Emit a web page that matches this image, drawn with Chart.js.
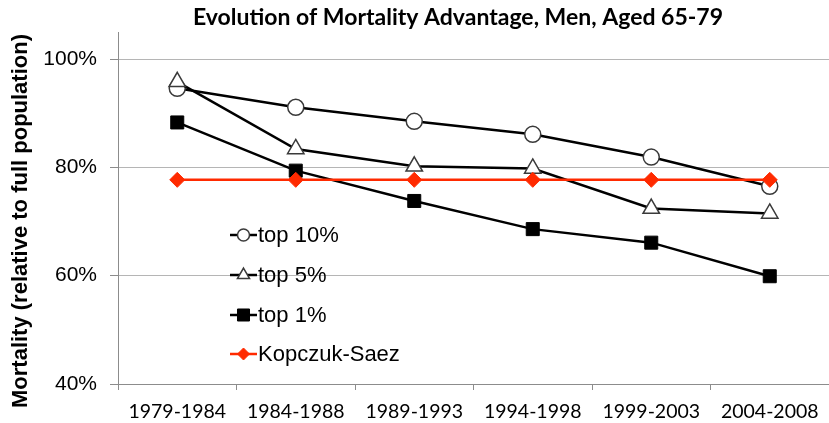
<!DOCTYPE html>
<html>
<head>
<meta charset="utf-8">
<script src="https://cdn.jsdelivr.net/npm/chart.js@4/dist/chart.umd.min.js"></script>
<style>
  html, body { margin: 0; padding: 0; background: #fff; overflow: hidden; }
  #wrap { width: 829px; height: 423px; position: relative; }
</style>
</head>
<body>
<div id="wrap"><canvas id="c" width="829" height="423"></canvas></div>
<script>
const chartTitle = "Evolution of Mortality Advantage, Men, Aged 65-79";
const yAxisTitle = "Mortality (relative to full population)";
const categories = ["1979-1984", "1984-1988", "1989-1993", "1994-1998", "1999-2003", "2004-2008"];
const yTickValues = [40, 60, 80, 100];
const seriesNames = ["top 10%", "top 5%", "top 1%", "Kopczuk-Saez"];
const top10 = [94.6, 91.1, 88.5, 86.1, 81.9, 76.5];
const top5 = [95.8, 83.4, 80.2, 79.8, 72.4, 71.5];
const top1 = [88.3, 79.4, 73.8, 68.6, 66.1, 59.9];
const kopczukSaez = [77.7, 77.7, 77.7, 77.7, 77.7, 77.7];

const RED = '#ff2a00';
const AXIS = '#8c8c8c';
const GRID = '#b5b5b5';

const datasets = [
  { label: seriesNames[0], data: top10, borderColor: '#000', borderWidth: 2.5,
    pointStyle: 'circle', pointRadius: 8, pointBackgroundColor: '#fff', pointBorderColor: '#3a3a3a', pointBorderWidth: 1.5, order: 3,
    legendRadius: 6 },
  { label: seriesNames[1], data: top5, borderColor: '#000', borderWidth: 2.5,
    pointStyle: 'triangle', pointRadius: 9.5, pointBackgroundColor: '#fff', pointBorderColor: '#3a3a3a', pointBorderWidth: 1.5, order: 2,
    legendRadius: 7 },
  { label: seriesNames[2], data: top1, borderColor: '#000', borderWidth: 2.5,
    pointStyle: 'rect', pointRadius: 9.2, pointBackgroundColor: '#000', pointBorderColor: '#000', pointBorderWidth: 1, order: 1,
    legendRadius: 8.5 },
  { label: seriesNames[3], data: kopczukSaez, borderColor: RED, borderWidth: 2.5,
    pointStyle: 'rectRot', pointRadius: 7.5, pointBackgroundColor: RED, pointBorderColor: RED, pointBorderWidth: 1, order: 0,
    legendRadius: 6 }
];
datasets.forEach(d => { d.tension = 0; d.fill = false; d.pointHoverRadius = d.pointRadius; });

function drawMarker(ctx, style, x, y, r, fill, stroke, lw) {
  ctx.save();
  ctx.fillStyle = fill; ctx.strokeStyle = stroke; ctx.lineWidth = lw;
  ctx.beginPath();
  if (style === 'circle') {
    ctx.arc(x, y, r, 0, Math.PI * 2);
  } else if (style === 'triangle') {
    const w = r * Math.sqrt(3) / 2;
    ctx.moveTo(x, y - r); ctx.lineTo(x + w, y + r / 2); ctx.lineTo(x - w, y + r / 2); ctx.closePath();
  } else if (style === 'rect') {
    const s = r * Math.SQRT1_2;
    ctx.rect(x - s, y - s, 2 * s, 2 * s);
  } else if (style === 'rectRot') {
    ctx.moveTo(x, y - r); ctx.lineTo(x + r, y); ctx.lineTo(x, y + r); ctx.lineTo(x - r, y); ctx.closePath();
  }
  ctx.fill(); ctx.stroke();
  ctx.restore();
}

const decorPlugin = {
  id: 'decor',
  afterDraw(chart) {
    const ctx = chart.ctx;
    // Title
    ctx.save();
    ctx.fillStyle = '#000';
    ctx.font = 'bold 23px Lato';
    ctx.textAlign = 'center';
    ctx.textBaseline = 'middle';
    ctx.fillText(chartTitle, 458, 18);
    ctx.restore();
    // Y axis title
    ctx.save();
    ctx.translate(21, 221);
    ctx.rotate(-Math.PI / 2);
    ctx.fillStyle = '#000';
    ctx.font = 'bold 22px "Liberation Sans"';
    ctx.textAlign = 'center';
    ctx.textBaseline = 'middle';
    ctx.fillText(yAxisTitle, 0, 0);
    ctx.restore();
    // Legend
    const x0 = 230, x1 = 257, rowY = [235, 275, 315, 354];
    chart.data.datasets.forEach((d, i) => {
      const y = rowY[i];
      ctx.save();
      ctx.strokeStyle = d.borderColor; ctx.lineWidth = 2.5;
      ctx.beginPath(); ctx.moveTo(x0, y); ctx.lineTo(x1, y); ctx.stroke();
      ctx.restore();
      drawMarker(ctx, d.pointStyle, (x0 + x1) / 2, y, d.legendRadius, d.pointBackgroundColor, d.pointBorderColor, d.pointBorderWidth);
      ctx.save();
      ctx.fillStyle = '#000';
      ctx.font = '22px "Liberation Sans"';
      ctx.textAlign = 'left';
      ctx.textBaseline = 'middle';
      ctx.fillText(d.label, 258, y + 1);
      ctx.restore();
    });
  }
};

new Chart(document.getElementById('c'), {
  type: 'line',
  data: { labels: categories, datasets: datasets },
  options: {
    responsive: false,
    animation: false,
    layout: { autoPadding: false, padding: { top: 32, left: 0, right: -2.5, bottom: 0 } },
    plugins: { legend: { display: false }, title: { display: false }, tooltip: { enabled: false } },
    scales: {
      x: {
        offset: true,
        grid: { display: true, drawOnChartArea: false, drawTicks: true, tickLength: 6, tickColor: AXIS, offset: true },
        border: { display: true, color: AXIS, width: 1 },
        ticks: { color: '#000', font: { family: 'Lato', size: 19.5 }, padding: 10, maxRotation: 0, autoSkip: false },
        afterFit(scale) { scale.height = 39; scale.paddingLeft = 0; scale.paddingRight = 0; }
      },
      y: {
        min: 40, max: 105,
        afterBuildTicks(scale) { scale.ticks = yTickValues.map(v => ({ value: v })); },
        grid: { color: GRID, lineWidth: 1, drawTicks: true, tickLength: 8, tickColor: AXIS },
        border: { display: true, color: AXIS, width: 1 },
        ticks: { color: '#000', font: { family: 'Liberation Sans', size: 21 }, padding: 13, callback: v => v + '%' },
        afterFit(scale) { scale.width = 118; scale.paddingTop = 0; scale.paddingBottom = 0; }
      }
    }
  },
  plugins: [decorPlugin]
});
</script>
</body>
</html>
